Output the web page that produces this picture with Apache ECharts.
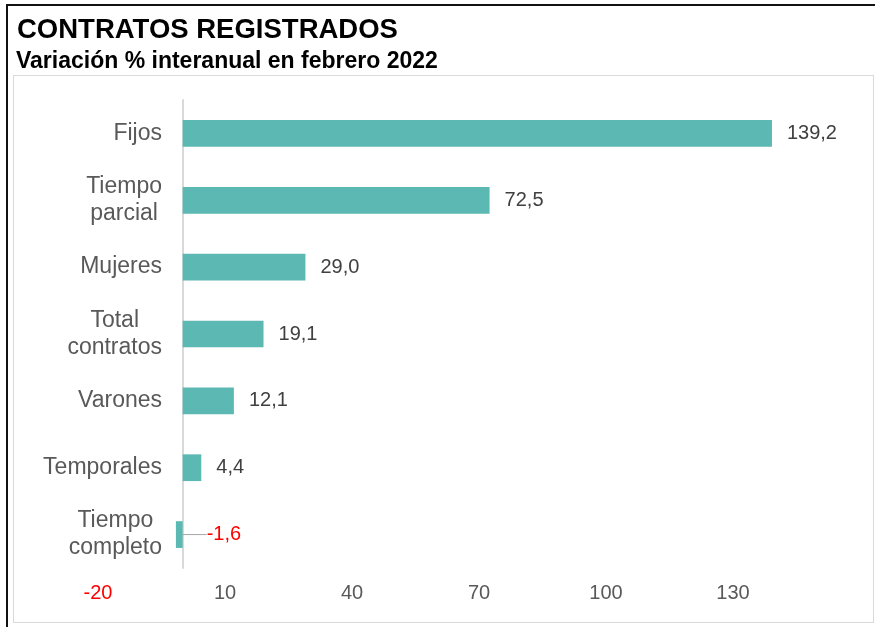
<!DOCTYPE html>
<html>
<head>
<meta charset="utf-8">
<script src="https://cdn.jsdelivr.net/npm/echarts@6/dist/echarts.min.js"></script>
<style>
  html, body { margin: 0; padding: 0; background: #fff; }
  #wrap { position: relative; width: 875px; height: 627px; overflow: hidden; }
  #outer { position: absolute; left: 6px; top: 4px; width: 900px; height: 700px;
           border-top: 2px solid #111; border-left: 2px solid #111; }
  #inner { position: absolute; left: 13px; top: 75px; width: 859px; height: 546px;
           border: 1px solid #d9d9d9; }
  #chart { position: absolute; left: 0; top: 0; width: 875px; height: 627px; }
</style>
</head>
<body>
<div id="wrap">
  <div id="outer"></div>
  <div id="inner"></div>
  <div id="chart"></div>
</div>
<script>
const categories = ['Fijos', 'Tiempo\nparcial', 'Mujeres', 'Total\ncontratos', 'Varones', 'Temporales', 'Tiempo\ncompleto'];
const values = [139.2, 72.5, 29.0, 19.1, 12.1, 4.4, -1.6];
const xTicks = { min: -20, max: 160, interval: 30 };
const titleText = 'CONTRATOS REGISTRADOS';
const subtitleText = 'Variación % interanual en febrero 2022';

const FONT = '"Liberation Sans", Arial, sans-serif';
const GRAY = '#595959';
const RED = '#ff0000';
const TEAL = '#5cb8b2';

const chart = echarts.init(document.getElementById('chart'), null, { renderer: 'canvas' });

const fmtNum = v => v.toFixed(1).replace('.', ',');

const seriesData = values.map(v => {
  if (v < 0) {
    return {
      value: v,
      label: { color: RED, padding: [0, 0, 0, 7] },
      labelLine: { show: true, lineStyle: { color: '#a6a6a6', width: 1 } }
    };
  }
  return { value: v };
});

chart.setOption({
  animation: false,
  backgroundColor: 'transparent',
  title: [
    { text: titleText, left: 12, top: 11,
      textStyle: { fontFamily: FONT, fontSize: 27.5, fontWeight: 'bold', color: '#000' } },
    { text: subtitleText, left: 11, top: 45,
      textStyle: { fontFamily: FONT, fontSize: 23, fontWeight: 'bold', color: '#000' } }
  ],
  grid: { left: 98, right: 15, top: 100, bottom: 59, containLabel: false, outerBoundsMode: 'none' },
  xAxis: {
    type: 'value',
    min: xTicks.min, max: xTicks.max, interval: xTicks.interval,
    axisLine: { show: false },
    axisTick: { show: false },
    splitLine: { show: false },
    axisLabel: {
      showMaxLabel: false,
      margin: 15,
      fontFamily: FONT, fontSize: 20, color: GRAY,
      formatter: v => v < 0 ? '{neg|' + v + '}' : String(v),
      rich: { neg: { color: RED, fontFamily: FONT, fontSize: 20 } }
    }
  },
  yAxis: {
    type: 'category',
    data: categories,
    inverse: true,
    axisLine: { show: true, onZero: true, lineStyle: { color: '#d9d9d9', width: 2 } },
    axisTick: { show: false },
    axisLabel: {
      margin: -64,
      fontFamily: FONT, fontSize: 23, color: GRAY, lineHeight: 27,
      formatter: v => v.split('\n').map(s => '{c|' + s + '}').join('\n'),
      rich: { c: { align: 'center', fontFamily: FONT, fontSize: 23, color: GRAY, lineHeight: 27 } }
    }
  },
  series: [{
    type: 'bar',
    data: seriesData,
    barWidth: '40%',
    itemStyle: { color: TEAL },
    label: {
      show: true,
      position: 'right',
      distance: 15,
      fontFamily: FONT, fontSize: 20, color: '#404040',
      formatter: p => fmtNum(p.value)
    },
    labelLayout: function (params) {
      if (values[params.dataIndex] < 0) {
        return { dx: 2 };
      }
      return {};
    }
  }]
});
</script>
</body>
</html>
